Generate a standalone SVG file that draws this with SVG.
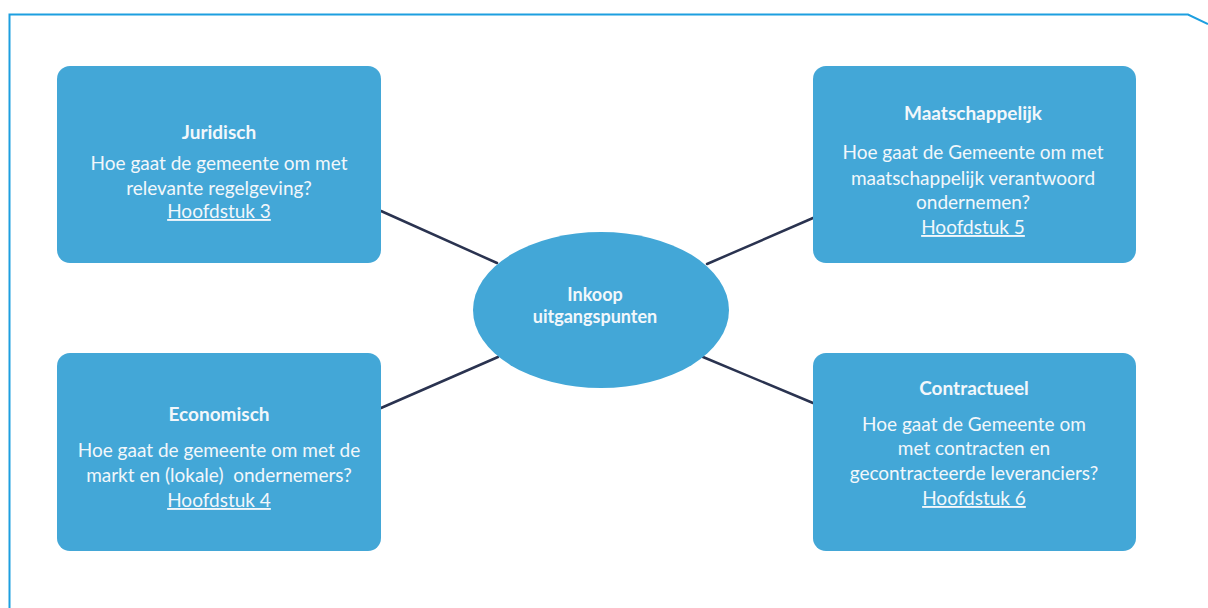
<svg xmlns="http://www.w3.org/2000/svg" width="1208" height="608" viewBox="0 0 1208 608">
<style>
.box{fill:#43a7d7;}
.t{font-family:Lato,"Open Sans","Liberation Sans",sans-serif;font-size:19px;fill:#f2f7fb;text-anchor:middle;}
.c{font-size:18px;}
.b{font-weight:bold;}
.u{text-decoration:underline;}
.con{stroke:#2a3350;stroke-width:2.5;fill:none;stroke-linecap:round;}
</style>
<rect width="1208" height="608" fill="#ffffff"/>
<path d="M9.5,608 V14.5 H1188 L1208,24" fill="none" stroke="#1d9fe0" stroke-width="2"/>
<g id="connectors">
<line class="con" x1="381" y1="211" x2="497" y2="263"/>
<line class="con" x1="707" y1="264" x2="813" y2="218"/>
<line class="con" x1="498" y1="357" x2="381" y2="408"/>
<line class="con" x1="703" y1="357" x2="813" y2="403"/>
</g>
<g id="center">
<ellipse class="box" cx="601" cy="310" rx="128" ry="78"/>
<text class="t b c" x="595" y="301">Inkoop</text>
<text class="t b c" x="595" y="323">uitgangspunten</text>
</g>
<g id="juridisch">
<rect class="box" x="57" y="66" width="324" height="197" rx="13"/>
<text class="t b" x="219" y="139">Juridisch</text>
<text class="t" x="219" y="170">Hoe gaat de gemeente om met</text>
<text class="t" x="219" y="195">relevante regelgeving?</text>
<text class="t u" x="219" y="218">Hoofdstuk 3</text>
</g>
<g id="maatschappelijk">
<rect class="box" x="813" y="66" width="323" height="197" rx="13"/>
<text class="t b" x="973" y="120">Maatschappelijk</text>
<text class="t" x="973" y="159">Hoe gaat de Gemeente om met</text>
<text class="t" x="973" y="185">maatschappelijk verantwoord</text>
<text class="t" x="973" y="209">ondernemen?</text>
<text class="t u" x="973" y="234">Hoofdstuk 5</text>
</g>
<g id="economisch">
<rect class="box" x="57" y="353" width="324" height="198" rx="13"/>
<text class="t b" x="219" y="421">Economisch</text>
<text class="t" x="219" y="457">Hoe gaat de gemeente om met de</text>
<text class="t" x="219" y="482" xml:space="preserve">markt en (lokale)  ondernemers?</text>
<text class="t u" x="219" y="507">Hoofdstuk 4</text>
</g>
<g id="contractueel">
<rect class="box" x="813" y="353" width="323" height="198" rx="13"/>
<text class="t b" x="974" y="395">Contractueel</text>
<text class="t" x="974" y="431">Hoe gaat de Gemeente om</text>
<text class="t" x="974" y="455">met contracten en</text>
<text class="t" x="974" y="480">gecontracteerde leveranciers?</text>
<text class="t u" x="974" y="505">Hoofdstuk 6</text>
</g>
</svg>
